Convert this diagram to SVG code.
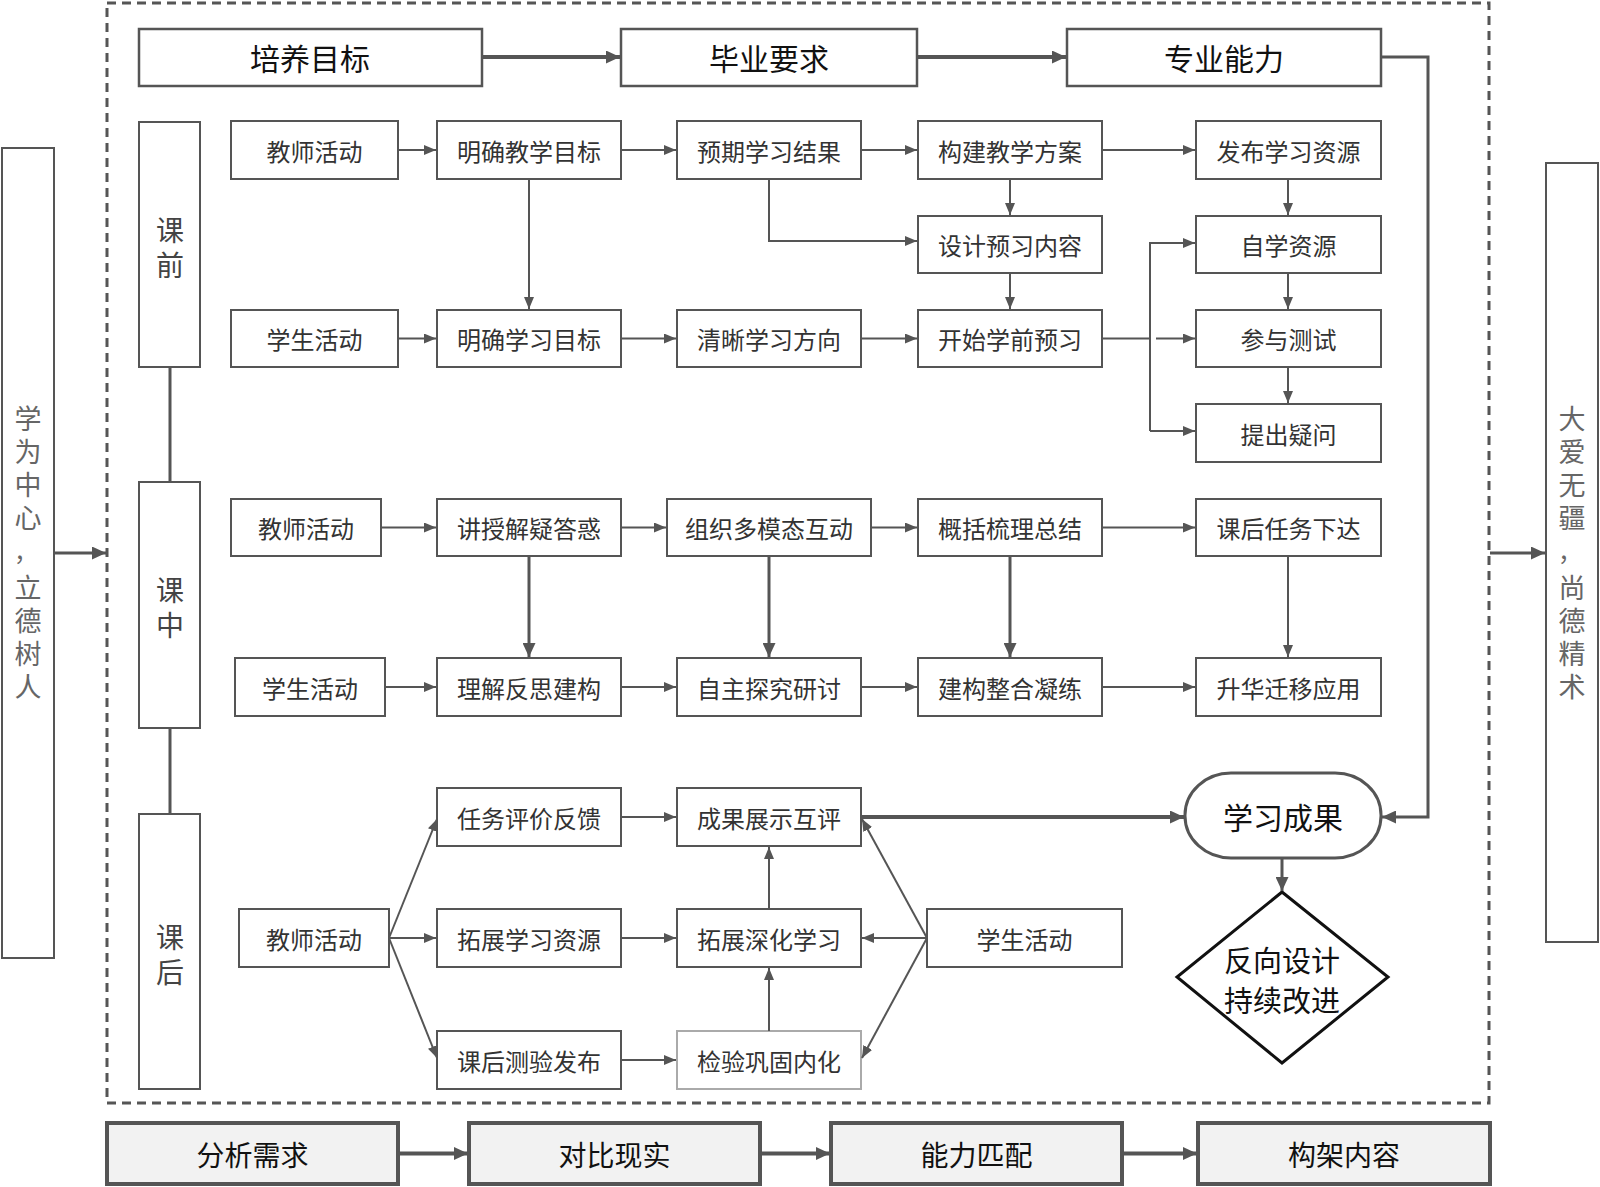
<svg xmlns="http://www.w3.org/2000/svg" width="1600" height="1187" viewBox="0 0 1600 1187">
<defs>
<style>
.b{fill:#fff;stroke:#555;stroke-width:2}
.bt{fill:#fff;stroke:#555;stroke-width:2.5}
.bb{fill:#f2f2f2;stroke:#555;stroke-width:4}
.t{font-family:"Noto Sans CJK SC","Noto Sans",sans-serif;font-size:24px;fill:#333;text-anchor:middle;dominant-baseline:central}
.tl{font-family:"Noto Sans CJK SC","Noto Sans",sans-serif;font-size:30px;fill:#111;text-anchor:middle;dominant-baseline:central}
.td{font-family:"Noto Sans CJK SC","Noto Sans",sans-serif;font-size:29px;fill:#111;text-anchor:middle;dominant-baseline:central}
.tb{font-family:"Noto Sans CJK SC","Noto Sans",sans-serif;font-size:28px;fill:#111;text-anchor:middle;dominant-baseline:central}
.ts{font-family:"Noto Sans CJK SC","Noto Sans",sans-serif;font-size:28px;fill:#444;writing-mode:vertical-rl;text-orientation:upright;letter-spacing:7px}
.tv{font-family:"Noto Sans CJK SC","Noto Sans",sans-serif;font-size:27px;fill:#666;writing-mode:vertical-rl;text-orientation:upright;letter-spacing:6px}
.tc{font-family:"Noto Sans CJK SC","Noto Sans",sans-serif;font-size:24px;fill:#666}
.c{fill:none;stroke:#555;stroke-width:2}
.c3{fill:none;stroke:#555;stroke-width:3}
.c4{fill:none;stroke:#555;stroke-width:4}
</style>
<marker id="ah" viewBox="0 0 12 10" refX="12" refY="5" markerWidth="12" markerHeight="10" markerUnits="userSpaceOnUse" orient="auto"><path d="M0,0 L12,5 L0,10 z" fill="#555"/></marker>
<marker id="ahb" viewBox="0 0 14 13" refX="14" refY="6.5" markerWidth="14" markerHeight="13" markerUnits="userSpaceOnUse" orient="auto"><path d="M0,0 L14,6.5 L0,13 z" fill="#555"/></marker>
</defs>
<rect width="1600" height="1187" fill="#fff"/>

<!-- frame -->
<rect x="107" y="3" width="1382" height="1100" fill="none" stroke="#555" stroke-width="3" stroke-dasharray="9 6"/>

<!-- side boxes -->
<g id="left-theme">
<rect class="b" x="2" y="148" width="52" height="810"/>
<text class="tv" x="28" y="405">学为中心</text>
<text class="tc" x="14" y="561">，</text>
<text class="tv" x="28" y="574.5">立德树人</text>
</g>
<g id="right-theme">
<rect class="b" x="1546" y="163" width="52" height="779"/>
<text class="tv" x="1572" y="405">大爱无疆</text>
<text class="tc" x="1558" y="561">，</text>
<text class="tv" x="1572" y="574.5">尚德精术</text>
</g>

<!-- top row -->
<g id="n-pymb"><rect class="bt" x="139" y="29" width="343" height="57"/><text class="tl" x="310" y="57">培养目标</text></g>
<g id="n-byyq"><rect class="bt" x="621" y="29" width="296" height="57"/><text class="tl" x="769" y="57">毕业要求</text></g>
<g id="n-zynl"><rect class="bt" x="1067" y="29" width="314" height="57"/><text class="tl" x="1224" y="57">专业能力</text></g>

<!-- sections -->
<g id="s-kq"><rect class="b" x="139" y="122" width="61" height="245"/><text class="ts" x="170" y="216">课前</text></g>
<g id="s-kz"><rect class="b" x="139" y="482" width="61" height="246"/><text class="ts" x="170" y="576">课中</text></g>
<g id="s-kh"><rect class="b" x="139" y="814" width="61" height="275"/><text class="ts" x="170" y="923">课后</text></g>

<!-- row 1 -->
<g id="n-jshd1"><rect class="b" x="231" y="121" width="167" height="58"/><text class="t" x="314.5" y="150">教师活动</text></g>
<g id="n-mqjxmb"><rect class="b" x="437" y="121" width="184" height="58"/><text class="t" x="529" y="150">明确教学目标</text></g>
<g id="n-yqxxjg"><rect class="b" x="677" y="121" width="184" height="58"/><text class="t" x="769" y="150">预期学习结果</text></g>
<g id="n-gjjxfa"><rect class="b" x="918" y="121" width="184" height="58"/><text class="t" x="1010" y="150">构建教学方案</text></g>
<g id="n-fbxxzy"><rect class="b" x="1196" y="121" width="185" height="58"/><text class="t" x="1288.5" y="150">发布学习资源</text></g>
<!-- row 2 -->
<g id="n-sjyxnr"><rect class="b" x="918" y="216" width="184" height="57"/><text class="t" x="1010" y="244.5">设计预习内容</text></g>
<g id="n-zxzy"><rect class="b" x="1196" y="216" width="185" height="57"/><text class="t" x="1288.5" y="244.5">自学资源</text></g>
<!-- row 3 -->
<g id="n-xshd1"><rect class="b" x="231" y="310" width="167" height="57"/><text class="t" x="314.5" y="338.5">学生活动</text></g>
<g id="n-mqxxmb"><rect class="b" x="437" y="310" width="184" height="57"/><text class="t" x="529" y="338.5">明确学习目标</text></g>
<g id="n-qxxxfx"><rect class="b" x="677" y="310" width="184" height="57"/><text class="t" x="769" y="338.5">清晰学习方向</text></g>
<g id="n-ksxqyx"><rect class="b" x="918" y="310" width="184" height="57"/><text class="t" x="1010" y="338.5">开始学前预习</text></g>
<g id="n-cycs"><rect class="b" x="1196" y="310" width="185" height="57"/><text class="t" x="1288.5" y="338.5">参与测试</text></g>
<!-- row 4 -->
<g id="n-tcyw"><rect class="b" x="1196" y="404" width="185" height="58"/><text class="t" x="1288.5" y="433">提出疑问</text></g>

<!-- row 5 -->
<g id="n-jshd2"><rect class="b" x="231" y="499" width="150" height="57"/><text class="t" x="306" y="527.5">教师活动</text></g>
<g id="n-jsjyd"><rect class="b" x="437" y="499" width="184" height="57"/><text class="t" x="529" y="527.5">讲授解疑答惑</text></g>
<g id="n-zzdmt"><rect class="b" x="667" y="499" width="204" height="57"/><text class="t" x="769" y="527.5">组织多模态互动</text></g>
<g id="n-gkslzj"><rect class="b" x="918" y="499" width="184" height="57"/><text class="t" x="1010" y="527.5">概括梳理总结</text></g>
<g id="n-khrwxd"><rect class="b" x="1196" y="499" width="185" height="57"/><text class="t" x="1288.5" y="527.5">课后任务下达</text></g>
<!-- row 6 -->
<g id="n-xshd2"><rect class="b" x="235" y="658" width="150" height="58"/><text class="t" x="310" y="687">学生活动</text></g>
<g id="n-ljfsjg"><rect class="b" x="437" y="658" width="184" height="58"/><text class="t" x="529" y="687">理解反思建构</text></g>
<g id="n-zztjyt"><rect class="b" x="677" y="658" width="184" height="58"/><text class="t" x="769" y="687">自主探究研讨</text></g>
<g id="n-jgzhnl"><rect class="b" x="918" y="658" width="184" height="58"/><text class="t" x="1010" y="687">建构整合凝练</text></g>
<g id="n-shqyyy"><rect class="b" x="1196" y="658" width="185" height="58"/><text class="t" x="1288.5" y="687">升华迁移应用</text></g>

<!-- row 7 -->
<g id="n-rwpjfk"><rect class="b" x="437" y="788" width="184" height="58"/><text class="t" x="529" y="817">任务评价反馈</text></g>
<g id="n-cgzshp"><rect class="b" x="677" y="788" width="184" height="58"/><text class="t" x="769" y="817">成果展示互评</text></g>
<g id="n-xxcg"><rect x="1185" y="773" width="196" height="85" rx="46" ry="42" fill="#fff" stroke="#555" stroke-width="3"/><text class="tl" x="1283" y="815.5">学习成果</text></g>
<!-- row 8 -->
<g id="n-jshd3"><rect class="b" x="239" y="909" width="150" height="58"/><text class="t" x="314" y="938">教师活动</text></g>
<g id="n-tzxxzy"><rect class="b" x="437" y="909" width="184" height="58"/><text class="t" x="529" y="938">拓展学习资源</text></g>
<g id="n-tzshxx"><rect class="b" x="677" y="909" width="184" height="58"/><text class="t" x="769" y="938">拓展深化学习</text></g>
<g id="n-xshd3"><rect class="b" x="927" y="909" width="195" height="58"/><text class="t" x="1024.5" y="938">学生活动</text></g>
<!-- row 9 -->
<g id="n-khcyfb"><rect class="b" x="437" y="1031" width="184" height="58"/><text class="t" x="529" y="1060">课后测验发布</text></g>
<g id="n-jyggnh"><rect x="677" y="1031" width="184" height="58" fill="#fff" stroke="#aaa" stroke-width="2"/><text class="t" x="769" y="1060">检验巩固内化</text></g>
<!-- diamond -->
<g id="n-fxsj"><polygon points="1282,892 1388,977 1282,1063 1177,977" fill="#fff" stroke="#111" stroke-width="3"/><text class="td" x="1282" y="959">反向设计</text><text class="td" x="1282" y="999">持续改进</text></g>

<!-- bottom row -->
<g id="n-fxxq"><rect class="bb" x="107" y="1123" width="291" height="61"/><text class="tb" x="252.5" y="1153.5">分析需求</text></g>
<g id="n-dbxs"><rect class="bb" x="469" y="1123" width="291" height="61"/><text class="tb" x="614.5" y="1153.5">对比现实</text></g>
<g id="n-nlpp"><rect class="bb" x="831" y="1123" width="291" height="61"/><text class="tb" x="976.5" y="1153.5">能力匹配</text></g>
<g id="n-gjnr"><rect class="bb" x="1198" y="1123" width="292" height="61"/><text class="tb" x="1344" y="1153.5">构架内容</text></g>

<g id="connectors">
<!-- side arrows -->
<path class="c3" d="M55,553 H106" marker-end="url(#ahb)"/>
<path class="c3" d="M1490,553 H1545" marker-end="url(#ahb)"/>
<!-- top row -->
<path class="c4" d="M482,57 H620" marker-end="url(#ahb)"/>
<path class="c4" d="M917,57 H1066" marker-end="url(#ahb)"/>
<path class="c3" d="M1381,57 H1428 V817 H1382" marker-end="url(#ahb)"/>
<!-- section links -->
<path class="c3" d="M170,367 V482"/>
<path class="c3" d="M170,728 V814"/>
<!-- pre-class -->
<path class="c" d="M398,150 H436" marker-end="url(#ah)"/>
<path class="c" d="M621,150 H676" marker-end="url(#ah)"/>
<path class="c" d="M861,150 H917" marker-end="url(#ah)"/>
<path class="c" d="M1102,150 H1195" marker-end="url(#ah)"/>
<path class="c" d="M529,179 V309" marker-end="url(#ah)"/>
<path class="c" d="M769,179 V241 H917" marker-end="url(#ah)"/>
<path class="c" d="M1010,179 V215" marker-end="url(#ah)"/>
<path class="c" d="M1010,273 V309" marker-end="url(#ah)"/>
<path class="c" d="M1288,179 V215" marker-end="url(#ah)"/>
<path class="c" d="M1288,273 V309" marker-end="url(#ah)"/>
<path class="c" d="M1288,367 V403" marker-end="url(#ah)"/>
<path class="c" d="M398,338.5 H436" marker-end="url(#ah)"/>
<path class="c" d="M621,338.5 H676" marker-end="url(#ah)"/>
<path class="c" d="M861,338.5 H917" marker-end="url(#ah)"/>
<path class="c" d="M1102,338.5 H1150"/>
<path class="c" d="M1150,431 V243 H1195" marker-end="url(#ah)"/>
<path class="c" d="M1150,431 H1195" marker-end="url(#ah)"/>
<path class="c" d="M1156,338.5 H1195" marker-end="url(#ah)"/>
<!-- in-class -->
<path class="c" d="M381,527.5 H436" marker-end="url(#ah)"/>
<path class="c" d="M621,527.5 H666" marker-end="url(#ah)"/>
<path class="c" d="M871,527.5 H917" marker-end="url(#ah)"/>
<path class="c" d="M1102,527.5 H1195" marker-end="url(#ah)"/>
<path class="c3" d="M529,556 V657" marker-end="url(#ahb)"/>
<path class="c3" d="M769,556 V657" marker-end="url(#ahb)"/>
<path class="c3" d="M1010,556 V657" marker-end="url(#ahb)"/>
<path class="c" d="M1288,556 V657" marker-end="url(#ah)"/>
<path class="c" d="M385,687 H436" marker-end="url(#ah)"/>
<path class="c" d="M621,687 H676" marker-end="url(#ah)"/>
<path class="c" d="M861,687 H917" marker-end="url(#ah)"/>
<path class="c" d="M1102,687 H1195" marker-end="url(#ah)"/>
<!-- after-class -->
<path class="c" d="M389,938 L437,819" marker-end="url(#ah)"/>
<path class="c" d="M389,938 H436" marker-end="url(#ah)"/>
<path class="c" d="M389,938 L437,1058" marker-end="url(#ah)"/>
<path class="c" d="M621,817 H676" marker-end="url(#ah)"/>
<path class="c" d="M621,938 H676" marker-end="url(#ah)"/>
<path class="c" d="M621,1060 H676" marker-end="url(#ah)"/>
<path class="c" d="M769,1031 V968" marker-end="url(#ah)"/>
<path class="c" d="M769,909 V847" marker-end="url(#ah)"/>
<path class="c" d="M927,938 H862" marker-end="url(#ah)"/>
<path class="c" d="M927,938 L862,819" marker-end="url(#ah)"/>
<path class="c" d="M927,938 L862,1058" marker-end="url(#ah)"/>
<path class="c4" d="M861,817 H1184" marker-end="url(#ahb)"/>
<path class="c3" d="M1282,858 V891" marker-end="url(#ahb)"/>
<!-- bottom -->
<path class="c4" d="M398,1153.5 H468" marker-end="url(#ahb)"/>
<path class="c4" d="M760,1153.5 H830" marker-end="url(#ahb)"/>
<path class="c4" d="M1122,1153.5 H1197" marker-end="url(#ahb)"/>
</g>
</svg>
